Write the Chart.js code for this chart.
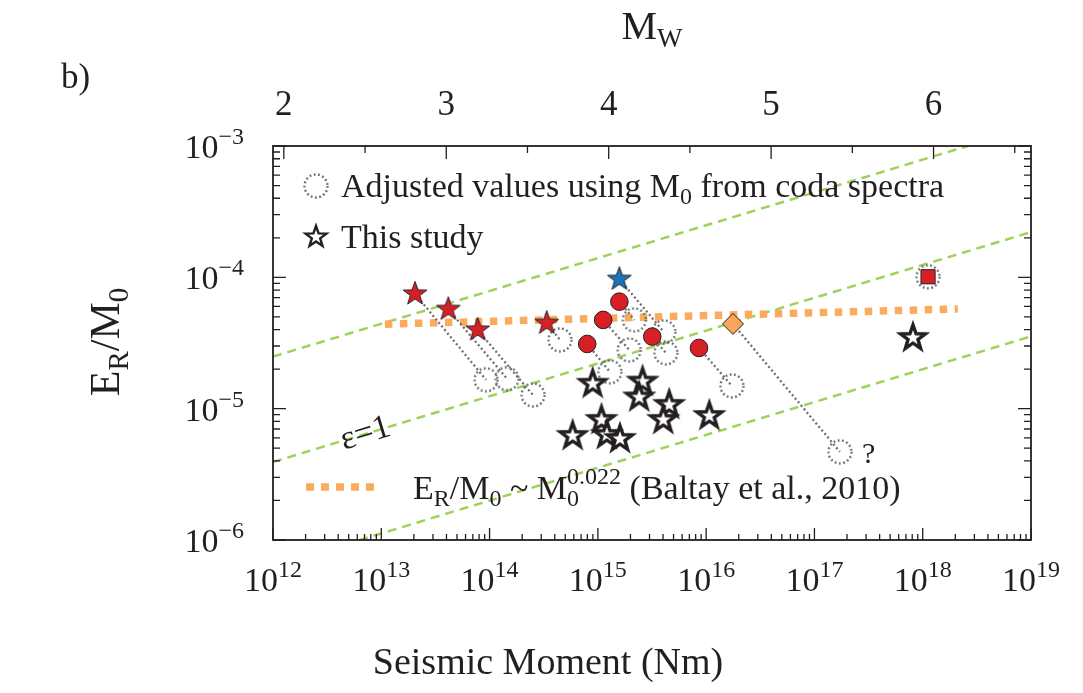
<!DOCTYPE html>
<html>
<head>
<meta charset="utf-8">
<script src="https://cdn.jsdelivr.net/npm/chart.js@4/dist/chart.umd.min.js"></script>
<style>
  html, body { margin: 0; padding: 0; background: #fff; }
  #wrap { width: 1083px; height: 693px; }
</style>
</head>
<body>
<div id="wrap"><canvas id="c" width="1083" height="693"></canvas></div>
<script>
const FONT = '"Liberation Serif", "DejaVu Serif", "Times New Roman", serif';
const INK = '#231f20';

// Seismic moment M0 (N·m) and scaled energy E_R/M0 for each event group.
// "Adj" arrays hold the same events re-plotted with M0 from coda spectra.
const redStarM0     = [2.05e13, 4.16e13, 7.76e13, 3.37e14];
const redStarER     = [7.48e-5, 5.71e-5, 3.98e-5, 4.48e-5];
const redStarAdjM0  = [9.27e13, 1.45e14, 2.52e14, 4.47e14];
const redStarAdjER  = [1.66e-5, 1.69e-5, 1.27e-5, 3.34e-5];

const blueStarM0    = [1.58e15];
const blueStarER    = [9.68e-5];
const blueStarAdjM0 = [4.07e15];
const blueStarAdjER = [3.84e-5];

const redCircleM0    = [1.58e15, 1.12e15, 7.98e14, 3.18e15, 8.59e15];
const redCircleER    = [6.53e-5, 4.74e-5, 3.11e-5, 3.54e-5, 2.90e-5];
const redCircleAdjM0 = [2.17e15, 1.95e15, 1.29e15, 4.25e15, 1.73e16];
const redCircleAdjER = [4.74e-5, 2.80e-5, 1.91e-5, 2.66e-5, 1.49e-5];

const diamondM0    = [1.77e16];
const diamondER    = [4.42e-5];
const diamondAdjM0 = [1.72e17];
const diamondAdjER = [4.69e-6];

const squareM0    = [1.12e18];
const squareER    = [1.01e-4];
const squareAdjM0 = [1.12e18];
const squareAdjER = [1.01e-4];

// This study
const studyM0 = [8.96e14, 2.59e15, 2.41e15, 4.56e15, 4.02e15, 1.07e16,
                 1.08e15, 1.21e15, 1.60e15, 5.85e14, 8.13e17];
const studyER = [1.55e-5, 1.61e-5, 1.22e-5, 1.07e-5, 8.22e-6, 8.81e-6,
                 8.22e-6, 6.32e-6, 5.89e-6, 6.21e-6, 3.46e-5];

// Reference lines (end points)
const refLineM0   = [1e12, 1e19];
const epsHighER   = [2.49e-5, 1.40e-3];
const epsOneER    = [3.93e-6, 2.21e-4];
const epsLowER    = [6.31e-7, 3.55e-5];
const baltayM0    = [1.08e13, 2.11e18];
const baltayER    = [4.40e-5, 5.75e-5];

// Axis tick labels
const xTickExp = [12, 13, 14, 15, 16, 17, 18, 19];
const yTickExp = [-3, -4, -5, -6];
const mwTicks  = [2, 3, 4, 5, 6];

const pts = (xs, ys) => xs.map((x, i) => ({ x, y: ys[i] }));

// ---- marker images ----
function starImage(R, fill, stroke, lw) {
  const s = 2 * Math.ceil(R + lw + 2);
  const c = document.createElement('canvas');
  c.width = c.height = s;
  const g = c.getContext('2d');
  g.beginPath();
  for (let k = 0; k < 10; k++) {
    const rr = k % 2 ? R * 0.4 : R;
    const a = -Math.PI / 2 + k * Math.PI / 5;
    const px = s / 2 + rr * Math.cos(a), py = s / 2 + rr * Math.sin(a);
    if (k) g.lineTo(px, py); else g.moveTo(px, py);
  }
  g.closePath();
  g.fillStyle = fill; g.fill();
  g.lineJoin = 'miter'; g.lineWidth = lw; g.strokeStyle = stroke; g.stroke();
  return c;
}
function dottedCircleImage(R) {
  const s = 2 * Math.ceil(R + 4);
  const c = document.createElement('canvas');
  c.width = c.height = s;
  const g = c.getContext('2d');
  g.setLineDash([1.8, 2.5]);
  g.lineCap = 'butt';
  g.lineWidth = 2.4;
  g.strokeStyle = '#6d6e71';
  g.beginPath(); g.arc(s / 2, s / 2, R, 0, Math.PI * 2); g.stroke();
  return c;
}

const imgRedStar  = starImage(12.5, '#d91f26', INK, 1);
const imgBlueStar = starImage(12.5, '#1b75bb', INK, 1);
const imgOpenStar = starImage(13, '#ffffff', INK, 3.4);
const imgOpenStarSmall = starImage(11, '#ffffff', INK, 2.4);
const imgDotCircle = dottedCircleImage(11.5);

// ---- connector datasets: each event linked to its adjusted position ----
const CONNECT = { borderColor: '#6d6e71', borderWidth: 2.3, borderDash: [2, 2.6],
                  showLine: true, pointRadius: 0, order: 8 };
const connectors = [];
[[redStarM0, redStarER, redStarAdjM0, redStarAdjER],
 [blueStarM0, blueStarER, blueStarAdjM0, blueStarAdjER],
 [redCircleM0, redCircleER, redCircleAdjM0, redCircleAdjER],
 [diamondM0, diamondER, diamondAdjM0, diamondAdjER]].forEach(([x0, y0, x1, y1]) => {
  x0.forEach((v, i) => connectors.push(Object.assign({
    data: [{ x: v, y: y0[i] }, { x: x1[i], y: y1[i] }] }, CONNECT)));
});

const adjustedAll = [].concat(
  pts(redStarAdjM0, redStarAdjER), pts(blueStarAdjM0, blueStarAdjER),
  pts(redCircleAdjM0, redCircleAdjER), pts(diamondAdjM0, diamondAdjER),
  pts(squareAdjM0, squareAdjER));

const GREEN = { borderColor: '#9ed25a', borderWidth: 2.5, borderDash: [9, 6],
                showLine: true, pointRadius: 0, order: 10 };

const datasets = [
  Object.assign({ data: pts(refLineM0, epsHighER) }, GREEN),
  Object.assign({ data: pts(refLineM0, epsOneER) }, GREEN),
  Object.assign({ data: pts(refLineM0, epsLowER) }, GREEN),
  { data: pts(baltayM0, baltayER), borderColor: '#fbab5e', borderWidth: 7.5,
    borderDash: [7.5, 7.5], borderCapStyle: 'butt', showLine: true, pointRadius: 0, order: 9 },
  ...connectors,
  { data: adjustedAll, pointStyle: imgDotCircle, showLine: false, order: 7 },
  { data: pts(studyM0, studyER), pointStyle: imgOpenStar, showLine: false, order: 6 },
  { data: pts(redCircleM0, redCircleER), pointStyle: 'circle', pointRadius: 8.8,
    backgroundColor: '#d91f26', borderColor: INK, borderWidth: 1, showLine: false, order: 5 },
  { data: pts(redStarM0, redStarER), pointStyle: imgRedStar, showLine: false, order: 5 },
  { data: pts(blueStarM0, blueStarER), pointStyle: imgBlueStar, showLine: false, order: 5 },
  { data: pts(diamondM0, diamondER), pointStyle: 'rectRot', pointRadius: 10.5,
    backgroundColor: '#f9a65a', borderColor: INK, borderWidth: 1, showLine: false, order: 5 },
  { data: pts(squareM0, squareER), pointStyle: 'rect', pointRadius: 10,
    backgroundColor: '#d91f26', borderColor: INK, borderWidth: 1, showLine: false, order: 4 }
];

// ---- text helpers ----
function textWidth(ctx, parts) {
  let w = 0;
  for (const p of parts) { ctx.font = p[1] + 'px ' + FONT; w += ctx.measureText(p[0]).width; }
  return w;
}
function rich(ctx, parts, x, y, align) {
  const w = textWidth(ctx, parts);
  let cx = align === 'center' ? x - w / 2 : align === 'right' ? x - w : x;
  for (const p of parts) {
    ctx.font = p[1] + 'px ' + FONT;
    ctx.fillText(p[0], cx, y + (p[2] || 0));
    cx += ctx.measureText(p[0]).width;
  }
}

const decor = {
  id: 'decor',
  afterDraw(chart) {
    const ctx = chart.ctx, a = chart.chartArea;
    const xs = chart.scales.x, ys = chart.scales.y;
    ctx.save();
    ctx.strokeStyle = INK; ctx.fillStyle = INK;
    ctx.textAlign = 'left'; ctx.textBaseline = 'alphabetic';

    // frame
    ctx.lineWidth = 1.8;
    ctx.strokeRect(a.left, a.top, a.right - a.left, a.bottom - a.top);

    // bottom ticks (M0 decades + minors)
    ctx.lineWidth = 1.3;
    ctx.beginPath();
    for (let d = 12; d <= 19; d++) {
      for (let m = 1; m <= 9; m++) {
        if (d === 19 && m > 1) break;
        const px = xs.getPixelForValue(m * Math.pow(10, d));
        const len = m === 1 ? 12 : 6;
        ctx.moveTo(px, a.bottom); ctx.lineTo(px, a.bottom - len);
      }
    }
    // left / right ticks
    for (let d = -6; d <= -3; d++) {
      for (let m = 1; m <= 9; m++) {
        if (d === -3 && m > 1) break;
        const py = ys.getPixelForValue(m * Math.pow(10, d));
        const len = m === 1 ? 13 : 7;
        ctx.moveTo(a.left, py); ctx.lineTo(a.left + len, py);
        ctx.moveTo(a.right, py); ctx.lineTo(a.right - len, py);
      }
    }
    // top ticks (moment magnitude)
    for (let mw = 2; mw <= 6.5; mw += 0.5) {
      const px = xs.getPixelForValue(Math.pow(10, 1.5 * mw + 9.1));
      const len = Number.isInteger(mw) ? 13 : 7;
      ctx.moveTo(px, a.top); ctx.lineTo(px, a.top + len);
    }
    ctx.stroke();

    // tick labels
    xTickExp.forEach(e => {
      rich(ctx, [['10', 34], [String(e), 24, -14]], xs.getPixelForValue(Math.pow(10, e)), 591, 'center');
    });
    yTickExp.forEach(e => {
      rich(ctx, [['10', 34], ['\u2212' + Math.abs(e), 24, -14]], 244, ys.getPixelForValue(Math.pow(10, e)) + 12, 'right');
    });
    mwTicks.forEach(mw => {
      rich(ctx, [[String(mw), 35]], xs.getPixelForValue(Math.pow(10, 1.5 * mw + 9.1)), 115, 'center');
    });

    // titles
    rich(ctx, [['Seismic Moment (Nm)', 38]], 548, 674, 'center');
    rich(ctx, [['M', 40], ['W', 27, 8]], 652, 39, 'center');
    rich(ctx, [['b)', 35]], 61, 88, 'left');
    ctx.save();
    ctx.translate(119, 342);
    ctx.rotate(-Math.PI / 2);
    rich(ctx, [['E', 42], ['R', 29, 9], ['/M', 42], ['0', 29, 9]], 0, 0, 'center');
    ctx.restore();

    // in-plot labels
    ctx.save();
    ctx.translate(365, 432);
    ctx.rotate(-17 * Math.PI / 180);
    rich(ctx, [['\u03b5=1', 34]], 0, 11, 'center');
    ctx.restore();
    rich(ctx, [['?', 30]], 862, 463, 'left');

    // legend
    ctx.drawImage(imgDotCircle, 316 - imgDotCircle.width / 2, 186 - imgDotCircle.height / 2);
    rich(ctx, [['Adjusted values using M', 34], ['0', 24, 7], [' from coda spectra', 34]], 341, 197, 'left');
    ctx.drawImage(imgOpenStarSmall, 316 - imgOpenStarSmall.width / 2, 237 - imgOpenStarSmall.height / 2);
    rich(ctx, [['This study', 34]], 341, 248, 'left');

    ctx.save();
    ctx.strokeStyle = '#fbab5e'; ctx.lineWidth = 7.5; ctx.setLineDash([8, 7]);
    ctx.beginPath(); ctx.moveTo(306, 487); ctx.lineTo(377, 487); ctx.stroke();
    ctx.restore();
    const lhs = [['E', 34], ['R', 24, 7], ['/M', 34], ['0', 24, 7], [' ~ M', 34]];
    rich(ctx, lhs, 413, 499, 'left');
    const wBase = textWidth(ctx, lhs);
    // subscript and superscript stacked on the final M
    rich(ctx, [['0', 24, 7]], 413 + wBase, 499, 'left');
    rich(ctx, [['0.022', 24, -15], [' (Baltay et al., 2010)', 34]], 413 + wBase, 499, 'left');

    ctx.restore();
  }
};

new Chart(document.getElementById('c'), {
  type: 'scatter',
  data: { datasets },
  options: {
    responsive: false,
    animation: false,
    events: [],
    layout: { padding: { left: 273, right: 52, top: 146, bottom: 153 } },
    plugins: { legend: { display: false }, tooltip: { enabled: false } },
    scales: {
      x: { type: 'logarithmic', min: 1e12, max: 1e19, display: false },
      y: { type: 'logarithmic', min: 1e-6, max: 1e-3, display: false }
    }
  },
  plugins: [decor]
});
</script>
</body>
</html>
